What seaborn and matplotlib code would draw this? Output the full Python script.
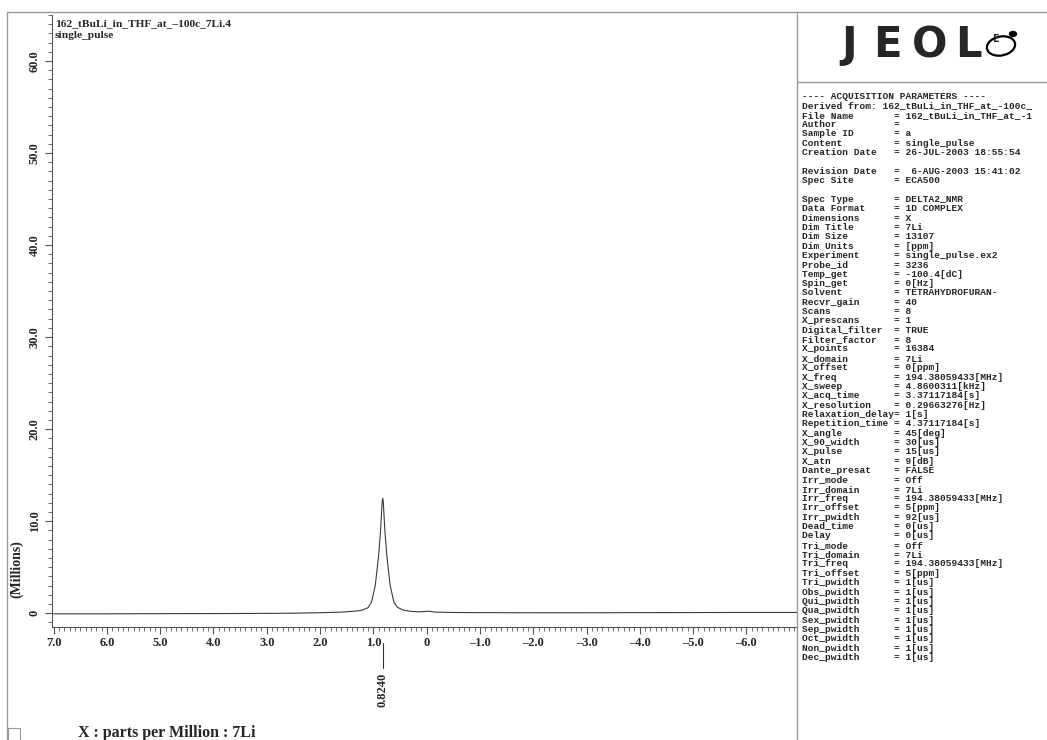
import numpy as np
import pandas as pd
import seaborn as sns
import matplotlib.pyplot as plt
import matplotlib.transforms as mtransforms
from matplotlib.lines import Line2D
from matplotlib.patches import Ellipse, Circle, Rectangle
from matplotlib.ticker import FixedLocator, MultipleLocator

# 7Li spectrum: shift (ppm) and intensity (millions)
ppm = [7.0, 6.0, 5.0, 4.0, 3.0, 2.5, 2.0, 1.6, 1.44, 1.3, 1.21, 1.1, 1.034,
       0.964, 0.902, 0.864, 0.845, 0.835, 0.824, 0.813, 0.803, 0.784, 0.746,
       0.684, 0.614, 0.55, 0.44, 0.3, 0.15, 0.05, -0.05, -0.15, -0.5, -1.0,
       -2.0, -3.0, -4.0, -5.0, -6.0, -6.95]
intensity = [-0.07, -0.07, -0.05, -0.04, -0.02, 0.0, 0.05, 0.12, 0.18, 0.25,
             0.33, 0.6, 1.2, 3.0, 6.2, 9.0, 11.0, 12.1, 12.5, 12.1, 11.0, 9.0,
             6.2, 3.0, 1.2, 0.65, 0.33, 0.2, 0.15, 0.18, 0.22, 0.12, 0.08,
             0.06, 0.05, 0.05, 0.06, 0.07, 0.08, 0.08]

peak_pos = [0.824]
peak_labels = ["0.8240"]

x_ticks = [7, 6, 5, 4, 3, 2, 1, 0, -1, -2, -3, -4, -5, -6]
x_ticklabels = ["7.0", "6.0", "5.0", "4.0", "3.0", "2.0", "1.0", "0",
                "\u20131.0", "\u20132.0", "\u20133.0", "\u20134.0", "\u20135.0", "\u20136.0"]
y_ticks = [0, 10, 20, 30, 40, 50, 60]
y_ticklabels = ["0", "10.0", "20.0", "30.0", "40.0", "50.0", "60.0"]

# acquisition parameter block (right panel)
param_names = ["File Name", "Author", "Sample ID", "Content", "Creation Date", "",
               "Revision Date", "Spec Site", "",
               "Spec Type", "Data Format", "Dimensions", "Dim Title", "Dim Size",
               "Dim Units", "Experiment", "Probe_id", "Temp_get", "Spin_get",
               "Solvent", "Recvr_gain", "Scans", "X_prescans", "Digital_filter",
               "Filter_factor", "X_points", "X_domain", "X_offset", "X_freq",
               "X_sweep", "X_acq_time", "X_resolution", "Relaxation_delay",
               "Repetition_time", "X_angle", "X_90_width", "X_pulse", "X_atn",
               "Dante_presat", "Irr_mode", "Irr_domain", "Irr_freq", "Irr_offset",
               "Irr_pwidth", "Dead_time", "Delay", "Tri_mode", "Tri_domain",
               "Tri_freq", "Tri_offset", "Tri_pwidth", "Obs_pwidth", "Qui_pwidth",
               "Qua_pwidth", "Sex_pwidth", "Sep_pwidth", "Oct_pwidth", "Non_pwidth",
               "Dec_pwidth"]
param_values = ["162_tBuLi_in_THF_at_-1", "", "a", "single_pulse",
                "26-JUL-2003 18:55:54", None,
                " 6-AUG-2003 15:41:02", "ECA500", None,
                "DELTA2_NMR", "1D COMPLEX", "X", "7Li", "13107",
                "[ppm]", "single_pulse.ex2", "3236", "-100.4[dC]", "0[Hz]",
                "TETRAHYDROFURAN-", "40", "8", "1", "TRUE",
                "8", "16384", "7Li", "0[ppm]", "194.38059433[MHz]",
                "4.8600311[kHz]", "3.37117184[s]", "0.29663276[Hz]", "1[s]",
                "4.37117184[s]", "45[deg]", "30[us]", "15[us]", "9[dB]",
                "FALSE", "Off", "7Li", "194.38059433[MHz]", "5[ppm]",
                "92[us]", "0[us]", "0[us]", "Off", "7Li",
                "194.38059433[MHz]", "5[ppm]", "1[us]", "1[us]", "1[us]",
                "1[us]", "1[us]", "1[us]", "1[us]", "1[us]",
                "1[us]"]

df = pd.DataFrame({"ppm": ppm, "intensity": intensity})

sns.set_style("ticks")
plt.rcParams['font.family'] = ['Liberation Serif', 'DejaVu Serif']
plt.rcParams['font.weight'] = 'bold'

W, H = 1047, 740
fig = plt.figure(figsize=(W / 100, H / 100), dpi=100)


def fx(px):
    return px / W


def fy(py):
    return 1 - py / H


ax = fig.add_axes([fx(52), fy(627), fx(797) - fx(52), fy(15) - fy(627)])
sns.lineplot(data=df, x="ppm", y="intensity", ax=ax, color="#3a3a3a",
             linewidth=0.8, estimator=None, sort=False)
ax.set_xlim(7.03, -6.95)
ax.set_ylim(-1.5, 65)
ax.set_xlabel("")
ax.set_ylabel("")

for side in ["top", "right"]:
    ax.spines[side].set_visible(False)
for side in ["left", "bottom"]:
    ax.spines[side].set_color("#555555")
    ax.spines[side].set_linewidth(0.8)

ax.xaxis.set_major_locator(FixedLocator(x_ticks))
ax.set_xticklabels(x_ticklabels)
ax.xaxis.set_minor_locator(MultipleLocator(0.1))
ax.yaxis.set_major_locator(FixedLocator(y_ticks))
ax.set_yticklabels(y_ticklabels)
ax.yaxis.set_minor_locator(MultipleLocator(1))

ax.tick_params(axis='x', which='major', length=5, width=0.8, color="#555555",
               direction='out', pad=2, labelsize=9)
ax.tick_params(axis='x', which='minor', length=3, width=0.6, color="#555555",
               direction='out')
ax.tick_params(axis='y', which='major', length=5, width=0.8, color="#555555",
               direction='out', pad=3, labelsize=9, labelrotation=90)
ax.tick_params(axis='y', which='minor', length=3, width=0.6, color="#555555",
               direction='out')
for lbl in ax.get_yticklabels():
    lbl.set_va('center')

# peak pick marker under the axis
trans = mtransforms.blended_transform_factory(ax.transData, ax.transAxes)
for pos, lab in zip(peak_pos, peak_labels):
    ax.plot([pos, pos], [-0.026, -0.067], transform=trans, color="#333333",
            lw=0.8, clip_on=False)
    ax.text(pos, -0.103, lab, transform=trans, rotation=90, ha='center',
            va='center', fontsize=9)

# header, axis captions
fig.text(fx(55), fy(24), "162_tBuLi_in_THF_at_\u2013100c_7Li.4", fontsize=8.2,
         va='center', ha='left')
fig.text(fx(55), fy(35), "single_pulse", fontsize=8.2, va='center', ha='left')
fig.text(fx(17), fy(569), "(Millions)", rotation=90, fontsize=10,
         va='center', ha='center')
fig.text(fx(78), fy(733), "X : parts per Million : 7Li", fontsize=11.5,
         va='center', ha='left')

# frame lines of the printout
frame_col = "#9a9a9a"
for xs, ys in [([7, 7], [12, 740]), ([7, 1047], [12, 12]),
               ([797, 797], [12, 740]), ([797, 1047], [82, 82])]:
    fig.add_artist(Line2D([fx(v) for v in xs], [fy(v) for v in ys],
                          color=frame_col, lw=1))
fig.add_artist(Rectangle((fx(8), fy(740)), fx(12), 12 / H, fill=False,
                         edgecolor=frame_col, lw=0.8))

# JEOL logo
for ch, cx in zip("JEOL", [849, 887, 930, 968]):
    fig.text(fx(cx), fy(45), ch, fontsize=30, family='DejaVu Sans',
             weight='bold', ha='center', va='center')
fig.add_artist(Ellipse((fx(1001), fy(46)), 30 / W, 18 / H, angle=40,
                       fill=False, edgecolor='black', lw=1.6))
fig.add_artist(Circle((fx(1013), fy(34)), 3.5 / W, color='black'))
fig.text(fx(995), fy(39), "E", fontsize=7, family='DejaVu Sans',
         ha='center', va='center')

# acquisition parameters text
lines = ["---- ACQUISITION PARAMETERS ----",
         "Derived from: 162_tBuLi_in_THF_at_-100c_"]
for name, val in zip(param_names, param_values):
    if val is None:
        lines.append("")
    else:
        lines.append(f"{name:<16}= {val}".rstrip())
for i, line in enumerate(lines):
    fig.text(fx(802), fy(99 + i * 9.35), line, family='Liberation Mono',
             fontsize=6.8, weight='bold', va='baseline', ha='left')

fig.savefig("out.png", dpi=100)
